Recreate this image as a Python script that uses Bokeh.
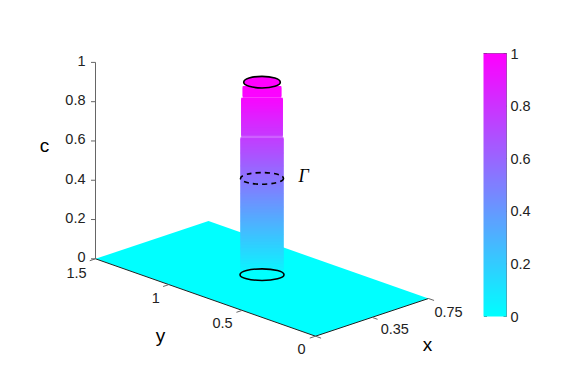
import numpy as np
from bokeh.embed import file_html
from bokeh.resources import INLINE
from bokeh.models import ColorBar, FixedTicker, LinearColorMapper, Range1d
from bokeh.plotting import figure

# ---- chart values
plane_x = [0.0, 0.75, 0.75, 0.0]
plane_y = [0.0, 0.0, 1.5, 1.5]
x_ticks = [0.0, 0.375, 0.75]
x_labels = ["", "0.35", "0.75"]
y_ticks = [0.0, 0.5, 1.0, 1.5]
y_labels = ["0", "0.5", "1", "1.5"]
z_ticks = [0.0, 0.2, 0.4, 0.6, 0.8, 1.0]
z_labels = ["0", "0.2", "0.4", "0.6", "0.8", "1"]
cbar_ticks = [0.0, 0.2, 0.4, 0.6, 0.8, 1.0]
ring_x = 0.414
ring_y = 0.79
ring_z = [0.0, 0.49, 0.98]
ring_radius = [22.0, 21.5, 18.3]
col_band_z = [0.03, 0.70, 0.90, 0.96]
col_band_radius = [21.5, 20.8, 19.3]
col_c_z = [0.03, 0.49, 0.90, 0.96]
col_c = [0.05, 0.54, 0.97, 1.0]

CYAN = "#00ffff"
MAGENTA = "#ff00ff"
FONT = "Liberation Sans"


def cool(c):
    r = int(round(255 * c))
    return f"#{r:02x}{255 - r:02x}ff"


def px(x, y, z=0.0):
    x, y, z = np.asarray(x, float), np.asarray(y, float), np.asarray(z, float)
    return 315 + 113 * x / 0.75 - 220 * y / 1.5, 335.7 - 37.7 * x / 0.75 - 77.4 * y / 1.5 - 196.4 * z


p = figure(width=565, height=363, output_backend="svg", toolbar_location=None,
           x_range=Range1d(0, 565), y_range=Range1d(363, 0),
           min_border=0, outline_line_color=None)
p.axis.visible = False
p.grid.visible = False
p.background_fill_color = "white"

# plane
xs, ys = px(plane_x, plane_y)
p.patch(list(xs), list(ys), fill_color=CYAN, line_color=None)

# axes
AX = "#222222"
GR = "#666666"
a, b = px([0, 0.75], [0, 0])
p.line(list(a), list(b), line_color=AX, line_width=1)
a, b = px([0, 0], [0, 1.5])
p.line(list(a), list(b), line_color=AX, line_width=1)
a, b = px([0, 0], [1.5, 1.5], [0, 1])
p.line(list(a), list(b), line_color=GR, line_width=1)

for t in x_ticks:
    a, b = px([t, t], [0, -0.038])
    p.line(list(a), list(b), line_color=GR, line_width=1)
for t in y_ticks:
    a, b = px([0, -0.038], [t, t])
    p.line(list(a), list(b), line_color=GR, line_width=1)
for t in z_ticks:
    a, b = px([0, 0], [1.5, 1.5], [t, t])
    p.line([a[0], a[0] - 4.5], list(b), line_color=GR, line_width=1)

# column, drawn slice by slice from the bottom up with an overlap
cx, cy0 = px(ring_x, ring_y)
edges = np.arange(col_band_z[0], col_band_z[-1] + 1e-9, 0.005)
for lo, hi in zip(edges[:-1], edges[1:]):
    mid = 0.5 * (lo + hi)
    k = min(np.searchsorted(col_band_z, mid, side="right") - 1, len(col_band_radius) - 1)
    r = col_band_radius[k]
    y_lo = cy0 - 196.4 * lo
    y_hi = cy0 - 196.4 * hi
    p.quad(left=cx - r, right=cx + r, bottom=y_lo + 1.5 if k == 0 or lo > col_band_z[k] + 0.01 else y_lo, top=y_hi,
           fill_color=cool(float(np.interp(mid, col_c_z, col_c))), line_color=None)

# rings
ring_fill = [None, None, MAGENTA]
ring_dash = ["solid", "5 4", "solid"]
for z, r, f, d in zip(ring_z, ring_radius, ring_fill, ring_dash):
    _, yy = px(ring_x, ring_y, z)
    p.ellipse(x=[float(cx)], y=[float(yy)], width=2 * r, height=11.6,
              fill_color=f, fill_alpha=1 if f else 0, line_color="black", line_width=1.6, line_dash=d)

# tick labels
LAB = "#222222"
SZ = "14.5px"
for t, lab in zip(z_ticks, z_labels):
    a, b = px(0, 1.5, t)
    p.text(x=[float(a) - 10], y=[float(b) - 1.5], text=[lab], text_align="right", text_baseline="middle",
           text_font_size=SZ, text_color=LAB, text_font={"value": FONT})
y_off = [(-14, 13), (-19.7, 13), (-13, 13), (-19, 13.7)]
for t, lab, o in zip(y_ticks, y_labels, y_off):
    a, b = px(0, t)
    p.text(x=[float(a) + o[0]], y=[float(b) + o[1]], text=[lab], text_align="center", text_baseline="middle",
           text_font_size=SZ, text_color=LAB, text_font={"value": FONT})
x_off = [(0, 0), (22.8, 12), (20, 13)]
for t, lab, o in zip(x_ticks, x_labels, x_off):
    if not lab:
        continue
    a, b = px(t, 0)
    p.text(x=[float(a) + o[0]], y=[float(b) + o[1]], text=[lab], text_align="center", text_baseline="middle",
           text_font_size=SZ, text_color=LAB, text_font={"value": FONT})

# axis titles
for lab, tx, ty in [("c", 44, 145), ("y", 160, 335), ("x", 427, 344)]:
    p.text(x=[tx], y=[ty], text=[lab], text_align="center", text_baseline="middle",
           text_font_size="19px", text_color="black", text_font={"value": FONT})
p.text(x=[303], y=[175.5], text=["Γ"], text_align="center", text_baseline="middle",
       text_font_size="18px", text_font_style="italic", text_color="black",
       text_font={"value": "Liberation Serif"})

# colour bar
mapper = LinearColorMapper(palette=[cool(i / 255) for i in range(256)], low=0, high=1)
cb = ColorBar(color_mapper=mapper, ticker=FixedTicker(ticks=cbar_ticks),
              major_label_overrides={0: "0", 0.2: "0.2", 0.4: "0.4", 0.6: "0.6", 0.8: "0.8", 1: "1"},
              width=23, height=263, location=(483, 47), margin=0, padding=0,
              background_fill_color=None, bar_line_color=None,
              major_tick_in=0, major_tick_line_color=None, minor_tick_line_color=None,
              major_label_text_font=FONT, major_label_text_font_size=SZ, major_label_text_color=LAB,
              label_standoff=4)
p.add_layout(cb, "center")

# frame of the colour bar: dark top and right edges, ticks on both sides
bar_value = np.array(cbar_ticks)
bar_y = 316 - 263 * bar_value
p.segment(x0=[483.5] * len(bar_y), x1=[486.5] * len(bar_y), y0=list(bar_y), y1=list(bar_y),
          line_color="#333344", line_width=1, line_alpha=0.7)
p.segment(x0=[503] * len(bar_y), x1=[506] * len(bar_y), y0=list(bar_y), y1=list(bar_y),
          line_color="#333344", line_width=1, line_alpha=0.7)
p.segment(x0=[506], x1=[506], y0=[53], y1=[316], line_color="#333344", line_width=1, line_alpha=0.7)
p.segment(x0=[483], x1=[506], y0=[53], y1=[53], line_color="#333344", line_width=1, line_alpha=0.7)

open("out.html", "w").write(file_html(p, INLINE))
